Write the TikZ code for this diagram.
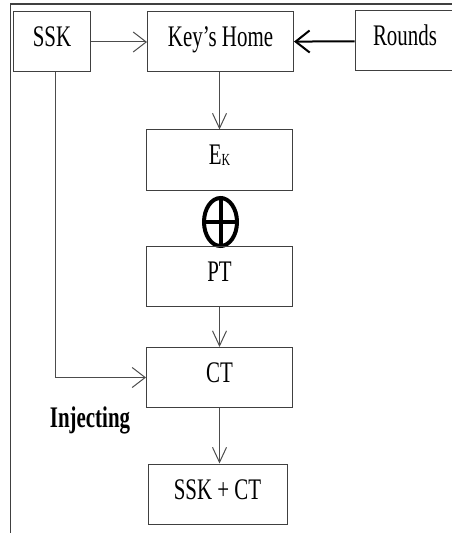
\documentclass[tikz,border=0pt]{standalone}
\usepackage{fontspec}
\setmainfont{Liberation Serif}[FakeStretch=0.7]
\usetikzlibrary{arrows.meta, shapes.geometric}

\begin{document}
\begin{tikzpicture}[x=1bp, y=-1bp,
    every node/.style={font=\fontsize{30}{32}\selectfont},
    box/.style={rectangle, draw=black!75, line width=1bp, minimum height=60bp, text height=20bp, text depth=10bp, inner sep=0pt},
    harrow/.style={draw=black!70, line width=1bp, -{Straight Barb[length=13bp, width=20bp, line width=1bp]}},
    varrow/.style={draw=black!70, line width=1bp, -{Straight Barb[length=15bp, width=14bp, line width=1bp]}}]
            \useasboundingbox (0,0) rectangle (452,533);
            % Frame
            \draw[black!75, line width=1.5bp] (10.5,533) -- (10.5,4) -- (452,4);
            % Top row
            \node[box, minimum width=76bp] (SSK) at (52,42) {SSK};
            \node[box, minimum width=146bp] (KH) at (220.5,42) {Key’s Home};
            \node[box, minimum width=100bp] (R) at (405,41) {Rounds};
            % Column
            \node[box, minimum width=146bp] (EK) at (219.5,160) {E\raisebox{-0.7bp}{\fontsize{17}{17}\selectfont K}};
            \node[ellipse, draw, line width=4bp, minimum width=33bp, minimum height=48bp, inner sep=0pt] (X) at (220.5,222) {};
            \draw[line width=4bp] (X.north) -- (X.south) (X.west) -- (X.east);
            \node[box, minimum width=146bp] (PT) at (219.5,276) {PT};
            \node[box, minimum width=146bp] (CT) at (219.5,377.5) {CT};
            \node[box, minimum width=139bp] (SC) at (217.5,494) {SSK + CT};
            \node[font=\fontsize{30}{32}\selectfont\bfseries] (inj) at (90,420) {Injecting};
            % Connections
            \draw[harrow] (SSK) -- (KH);
            \draw[draw=black, line width=2bp, -{Straight Barb[length=14bp, width=22bp, line width=2bp]}] (R) -- (KH);
            \draw[varrow] (KH.south -| EK) -- (EK);
            \draw[varrow] (PT) -- (CT);
            \draw[varrow] (CT.south) -- (SC.north -| CT);
            \draw[harrow] ([xshift=3bp]SSK.south) |- (CT);
        \end{tikzpicture}
\end{document}
